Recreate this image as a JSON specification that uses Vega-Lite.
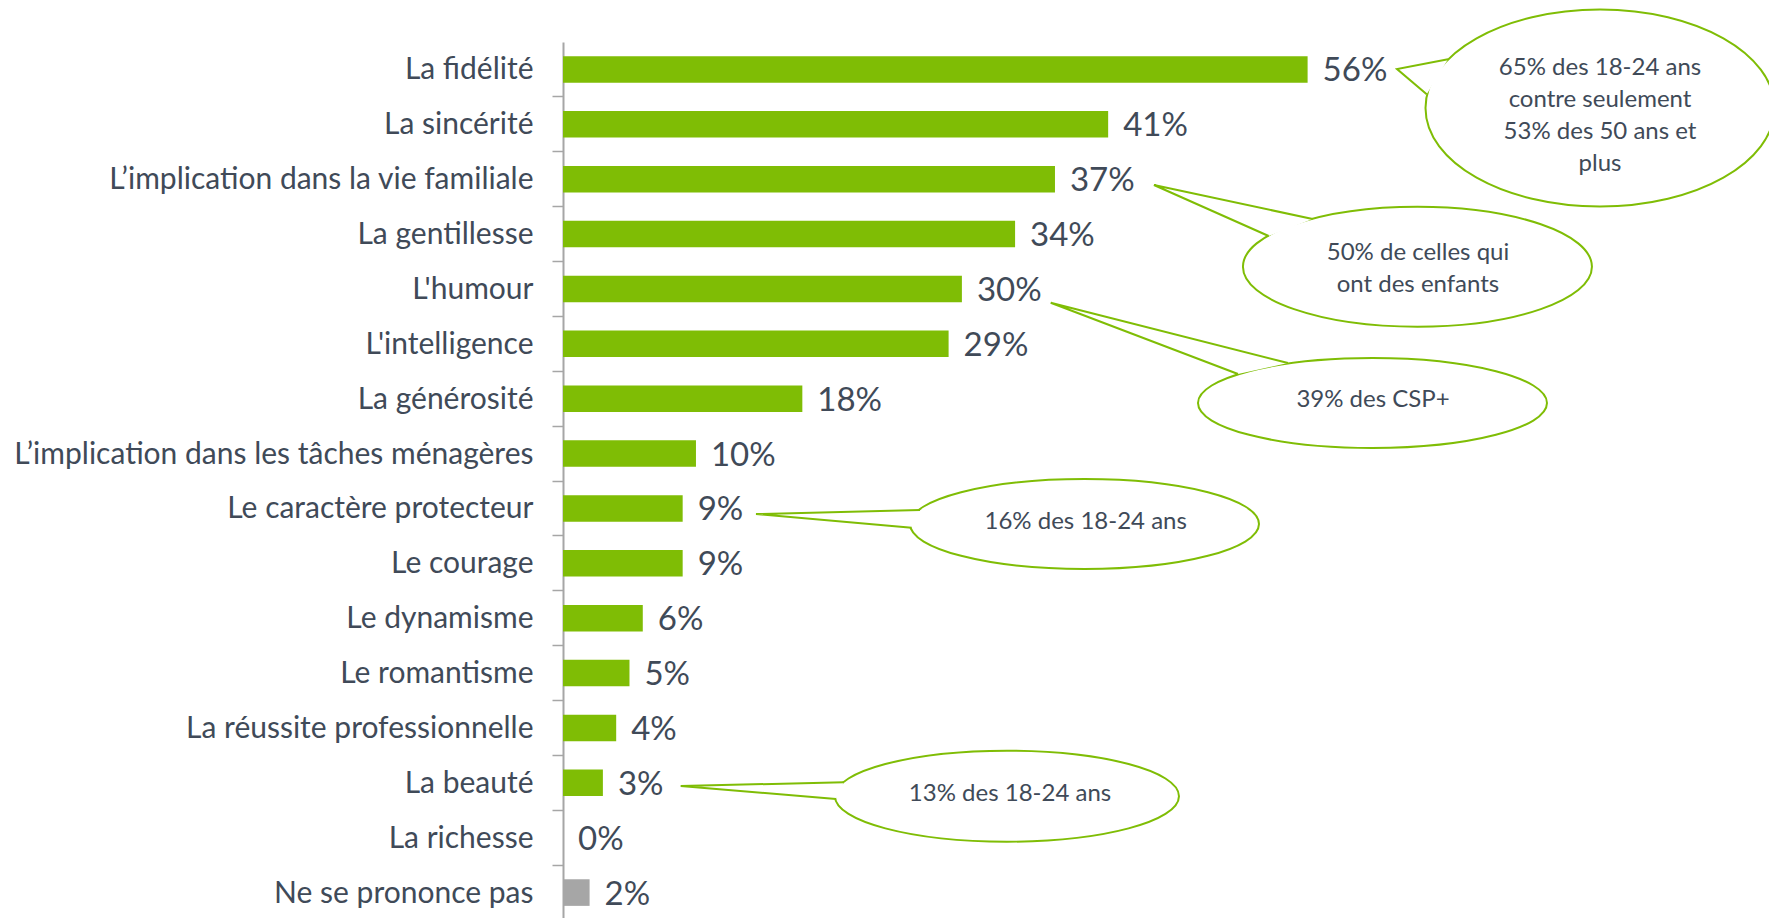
{
  "$schema": "https://vega.github.io/schema/vega-lite/v6.json",
  "width": 1206,
  "height": 878,
  "autosize": {"type": "none"},
  "padding": {"left": 563, "top": 42, "right": 0, "bottom": 0},
  "background": "white",
  "config": {"view": {"stroke": null}, "font": "Lato"},
  "datasets": {
    "bars": [
      {"cat": "La fidélité", "pct": 0.56, "kind": "main"},
      {"cat": "La sincérité", "pct": 0.41, "kind": "main"},
      {"cat": "L’implication dans la vie familiale", "pct": 0.37, "kind": "main"},
      {"cat": "La gentillesse", "pct": 0.34, "kind": "main"},
      {"cat": "L'humour", "pct": 0.30, "kind": "main"},
      {"cat": "L'intelligence", "pct": 0.29, "kind": "main"},
      {"cat": "La générosité", "pct": 0.18, "kind": "main"},
      {"cat": "L’implication dans les tâches ménagères", "pct": 0.10, "kind": "main"},
      {"cat": "Le caractère protecteur", "pct": 0.09, "kind": "main"},
      {"cat": "Le courage ", "pct": 0.09, "kind": "main"},
      {"cat": "Le dynamisme", "pct": 0.06, "kind": "main"},
      {"cat": "Le romantisme", "pct": 0.05, "kind": "main"},
      {"cat": "La réussite professionnelle", "pct": 0.04, "kind": "main"},
      {"cat": "La beauté", "pct": 0.03, "kind": "main"},
      {"cat": "La richesse", "pct": 0.0, "kind": "main"},
      {"cat": "Ne se prononce pas", "pct": 0.02, "kind": "nsp"}
    ],
    "callouts": [
      {"id": "c1", "x": 0.7799, "y": 1.203},
      {"id": "c2", "x": 0.6426, "y": 4.095},
      {"id": "c3", "x": 0.6088, "y": 6.579},
      {"id": "c4", "x": 0.3922, "y": 8.784},
      {"id": "c5", "x": 0.3339, "y": 13.744}
    ],
    "notes": [
      {"note": "65% des 18-24 ans\ncontre seulement\n53% des 50 ans et\nplus", "x": 0.7799, "y": 0.470},
      {"note": "50% de celles qui\nont des enfants", "x": 0.643, "y": 3.847},
      {"note": "39% des CSP+", "x": 0.6092, "y": 6.519},
      {"note": "16% des 18-24 ans", "x": 0.3931, "y": 8.755},
      {"note": "13% des 18-24 ans", "x": 0.3362, "y": 13.706}
    ]
  },
  "layer": [
    {
      "data": {"name": "bars"},
      "encoding": {
        "y": {
          "field": "cat",
          "type": "nominal",
          "sort": null,
          "scale": {"paddingInner": 0, "paddingOuter": 0},
          "axis": {
            "title": null,
            "grid": false,
            "domainColor": "#a6a6a6",
            "domainWidth": 2,
            "tickColor": "#a6a6a6",
            "tickWidth": 1.5,
            "tickSize": 11,
            "bandPosition": 1,
            "labelFont": "Lato",
            "labelFontSize": 30,
            "labelColor": "#404a58",
            "labelPadding": 19,
            "labelOffset": 1,
            "labelLimit": 1000
          }
        },
        "x": {
          "field": "pct",
          "type": "quantitative",
          "scale": {"domain": [0, 0.907], "nice": false, "zero": true},
          "axis": null
        }
      },
      "layer": [
        {
          "mark": {"type": "bar", "height": {"band": 0.485}},
          "encoding": {
            "color": {
              "field": "kind",
              "type": "nominal",
              "scale": {"domain": ["main", "nsp"], "range": ["#7fbd05", "#a6a6a6"]},
              "legend": null
            }
          }
        },
        {
          "mark": {"type": "text", "align": "left", "baseline": "middle", "dx": 15, "dy": 2, "fontSize": 33, "font": "Lato", "color": "#404a58"},
          "encoding": {"text": {"field": "pct", "type": "quantitative", "format": ".0%"}}
        }
      ]
    },
    {
      "encoding": {
        "x": {"field": "x", "type": "quantitative"},
        "y": {
          "field": "y",
          "type": "quantitative",
          "scale": {"domain": [0, 16], "reverse": true, "nice": false, "zero": false},
          "axis": null
        }
      },
      "layer": [
        {
          "data": {"name": "callouts"},
          "mark": {"type": "point", "filled": true, "fill": "white", "stroke": "#7fbd05", "strokeWidth": 2, "size": 4, "opacity": 1},
          "encoding": {
            "shape": {
              "field": "id",
              "type": "nominal",
              "legend": null,
              "scale": {
                "domain": ["c1", "c2", "c3", "c4", "c5"],
                "range": [
                  "M174.5,0 C174.5,54.4 96.38,98.5 0,98.5 C-96.38,98.5 -174.5,54.4 -174.5,0 C-174.5,-54.4 -96.38,-98.5 0,-98.5 C96.38,-98.5 174.5,-54.4 174.5,0 Z",
                  "M174.5,0 C174.5,33.14 96.38,60 0,60 C-96.38,60 -174.5,33.14 -174.5,0 C-174.5,-33.14 -96.38,-60 0,-60 C96.38,-60 174.5,-33.14 174.5,0 Z",
                  "M174.5,0 C174.5,24.85 96.38,45 0,45 C-96.38,45 -174.5,24.85 -174.5,0 C-174.5,-24.85 -96.38,-45 0,-45 C96.38,-45 174.5,-24.85 174.5,0 Z",
                  "M174.5,0 C174.5,24.85 96.38,45 0,45 C-96.38,45 -174.5,24.85 -174.5,0 C-174.5,-24.85 -96.38,-45 0,-45 C96.38,-45 174.5,-24.85 174.5,0 Z",
                  "M172,0 C172,25.13 95,45.5 0,45.5 C-95,45.5 -172,25.13 -172,0 C-172,-25.13 -95,-45.5 0,-45.5 C95,-45.5 172,-25.13 172,0 Z"
                ]
              }
            }
          }
        },
        {
          "data": {"name": "callouts"},
          "mark": {"type": "point", "filled": true, "fill": "white", "stroke": "#7fbd05", "strokeWidth": 2, "size": 4, "opacity": 1},
          "encoding": {
            "shape": {
              "field": "id",
              "type": "nominal",
              "legend": null,
              "scale": {
                "domain": ["c1", "c2", "c3", "c4", "c5"],
                "range": [
                  "M-152,-48.7 L-203,-39 L-173.3,-13.7",
                  "M-104.8,-47.7 L-263.5,-81.7 L-148.8,-30.7",
                  "M-84.5,-40 L-321.8,-100.3 L-134.5,-29",
                  "M-164.5,-14 L-328.5,-10 L-172.8,3.7",
                  "M-163,-13.9 L-326.3,-10.2 L-171,2.8"
                ]
              }
            }
          }
        },
        {
          "data": {"name": "notes"},
          "mark": {"type": "text", "align": "center", "baseline": "middle", "lineBreak": "\n", "lineHeight": 32, "fontSize": 24, "font": "Lato", "color": "#404a58"},
          "encoding": {"text": {"field": "note", "type": "nominal"}}
        }
      ],
      "resolve": {"scale": {"shape": "independent"}}
    }
  ],
  "resolve": {"scale": {"y": "independent"}}
}
